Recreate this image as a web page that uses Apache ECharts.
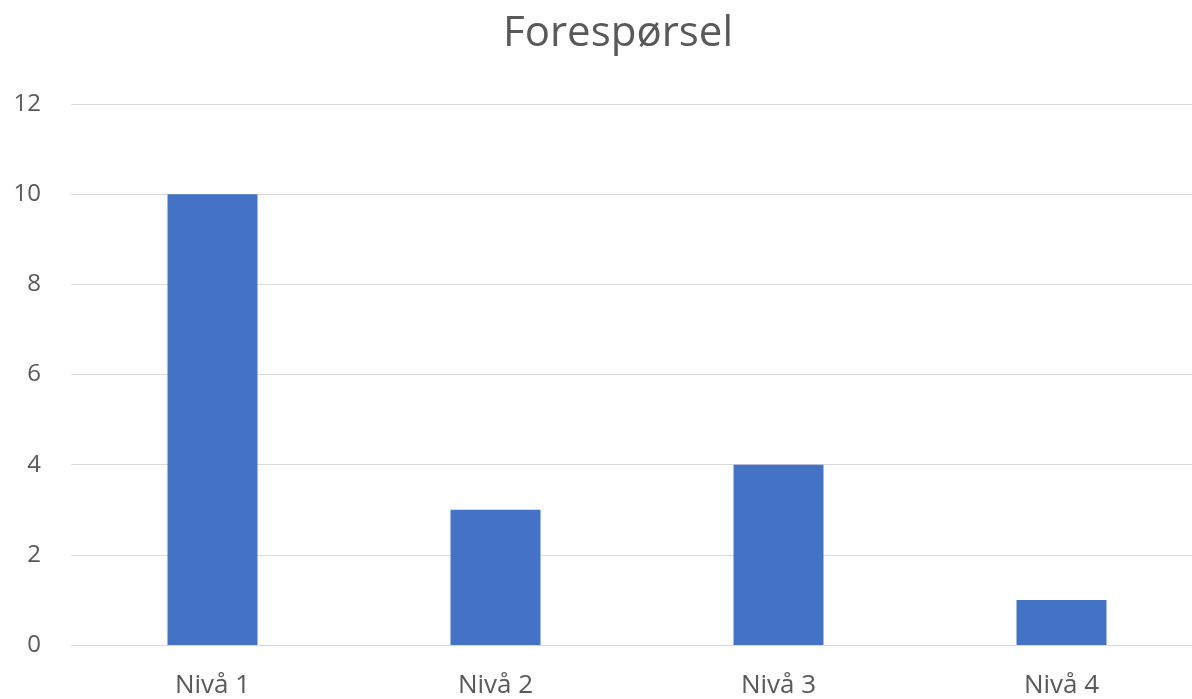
<!DOCTYPE html>
<html>
<head>
<meta charset="utf-8">
<script src="https://cdn.jsdelivr.net/npm/echarts@6/dist/echarts.min.js"></script>
<style>
  html, body { margin: 0; padding: 0; background: #fff; overflow: hidden; }
  #chart { width: 1203px; height: 699px; }
</style>
</head>
<body>
<div id="chart"></div>
<script>
const categories = ['Nivå 1', 'Nivå 2', 'Nivå 3', 'Nivå 4'];
const values = [10, 3, 4, 1];
const yTicks = { min: 0, max: 12, interval: 2 };

const FONT = '"Open Sans", sans-serif';
const TEXT = '#595959';

const chart = echarts.init(document.getElementById('chart'));
chart.setOption({
  animation: false,
  title: {
    text: 'Forespørsel',
    left: 613,
    textAlign: 'center',
    top: 8,
    textStyle: { fontFamily: FONT, fontSize: 42, fontWeight: 'normal', color: TEXT }
  },
  grid: { left: 71, right: 0, top: 104, bottom: 53, containLabel: false },
  xAxis: {
    type: 'category',
    data: categories,
    axisTick: { show: false },
    axisLine: { lineStyle: { color: '#d9d9d9', width: 1 } },
    axisLabel: { margin: 28, fontFamily: FONT, fontSize: 26, color: TEXT }
  },
  yAxis: {
    type: 'value',
    min: yTicks.min,
    max: yTicks.max,
    interval: yTicks.interval,
    axisLine: { show: false },
    axisTick: { show: false },
    splitLine: { lineStyle: { color: '#d9d9d9', width: 1 } },
    axisLabel: { margin: 30, fontFamily: FONT, fontSize: 24, color: TEXT }
  },
  series: [{
    type: 'bar',
    data: values,
    barWidth: '31.8%',
    itemStyle: { color: '#4472C4' }
  }]
});
</script>
</body>
</html>
